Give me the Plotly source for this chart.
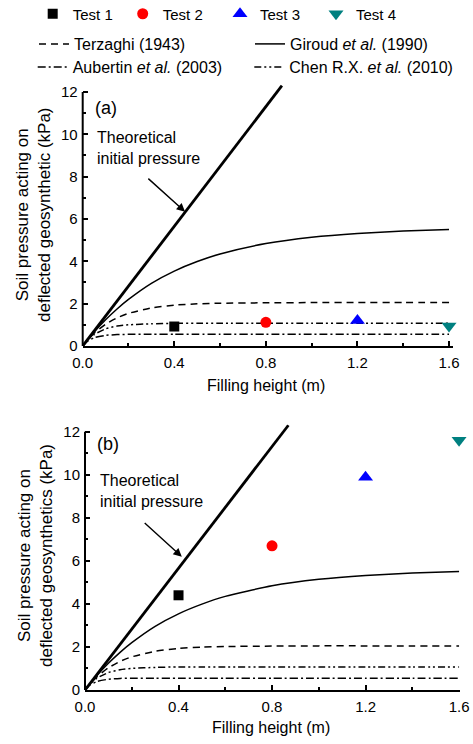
import plotly.graph_objects as go

# ---------------- data ----------------
test_names = ["Test 1", "Test 2", "Test 3", "Test 4"]
test_x = [0.4, 0.8, 1.2, 1.6]
test_a = [0.92, 1.12, 1.20, 0.95]
test_b = [4.40, 6.70, 9.88, 11.60]

curve_x = [0, 0.02, 0.05, 0.1, 0.15, 0.2, 0.3, 0.4, 0.5, 0.6, 0.8, 1.0, 1.2, 1.4, 1.6]
terzaghi = [0, 0.27, 0.60, 1.03, 1.33, 1.54, 1.80, 1.93, 1.99, 2.02, 2.04, 2.05, 2.05, 2.05, 2.05]
giroud = [0, 0.27, 0.66, 1.24, 1.75, 2.20, 2.96, 3.54, 3.99, 4.35, 4.84, 5.14, 5.32, 5.43, 5.50]
aubertin = [0, 0.22, 0.39, 0.50, 0.54, 0.55, 0.55, 0.55, 0.55, 0.55, 0.55, 0.55, 0.55, 0.55, 0.55]
chen = [0, 0.26, 0.54, 0.81, 0.94, 1.00, 1.05, 1.07, 1.07, 1.07, 1.07, 1.07, 1.07, 1.07, 1.07]

theory_x = [0, 0.87]
theory_y = [0, 12.3]

x_ticks = [0.0, 0.4, 0.8, 1.2, 1.6]
y_ticks = [0, 2, 4, 6, 8, 10, 12]

# ---------------- styles ----------------
W, H = 473, 744
FONT = "Arial, Liberation Sans, sans-serif"
marker_styles = [
    dict(symbol="square", size=10, color="black"),
    dict(symbol="circle", size=11, color="#ff0000"),
    dict(symbol="triangle-up", size=13, color="#0000ff"),
    dict(symbol="triangle-down", size=13, color="#008080"),
]
curves = [
    ("Terzaghi (1943)", terzaghi, "7px,5px"),
    ("Giroud <i>et al.</i> (1990)", giroud, "solid"),
    ("Aubertin <i>et al.</i> (2003)", aubertin, "8px,3px,2px,3px"),
    ("Chen R.X. <i>et al.</i> (2010)", chen, "7px,3px,2px,3px,2px,3px"),
]

def px_x(p):
    return p / W

def px_y(p):
    return 1 - p / H

fig = go.Figure()

leg_ids_tests = ["legend", "legend2", "legend3", "legend4"]
leg_ids_curves = ["legend5", "legend6", "legend7", "legend8"]
test_text_x = [72.7, 162.7, 260, 356]
curve_text_pos = [(74, 44), (290, 44), (72.7, 67), (289.3, 67)]

panels = [("x", "y", test_a, True), ("x2", "y2", test_b, False)]
for xa, ya, tvals, show in panels:
    for j, (name, vals, dash) in enumerate(curves):
        fig.add_trace(go.Scatter(
            x=curve_x, y=vals, mode="lines", name=name,
            line=dict(color="black", width=1.5, dash=dash, shape="spline", smoothing=0.6),
            xaxis=xa, yaxis=ya, showlegend=show, legend=leg_ids_curves[j],
        ))
    fig.add_trace(go.Scatter(
        x=theory_x, y=theory_y, mode="lines", line=dict(color="black", width=2.8),
        xaxis=xa, yaxis=ya, showlegend=False,
    ))
    for i, ms in enumerate(marker_styles):
        fig.add_trace(go.Scatter(
            x=[test_x[i]], y=[tvals[i]], mode="markers", name=test_names[i],
            marker=dict(symbol=ms["symbol"], size=ms["size"], color=ms["color"], line=dict(width=0)),
            xaxis=xa, yaxis=ya, showlegend=show, legend=leg_ids_tests[i], cliponaxis=False,
        ))

layout_legends = {}
for i, lid in enumerate(leg_ids_tests):
    layout_legends[lid] = dict(
        x=px_x(test_text_x[i] - 40), xanchor="left", y=px_y(14), yanchor="middle",
        bgcolor="rgba(0,0,0,0)", borderwidth=0, font=dict(family=FONT, size=15, color="black"),
        orientation="h",
    )
for j, lid in enumerate(leg_ids_curves):
    tx, ty = curve_text_pos[j]
    layout_legends[lid] = dict(
        x=px_x(tx - 40), xanchor="left", y=px_y(ty), yanchor="middle",
        bgcolor="rgba(0,0,0,0)", borderwidth=0, font=dict(family=FONT, size=16, color="black"),
        orientation="h",
    )

ax_a = dict(x0=82.7, x1=452.7, xr=1.616, y0=346, ppu=21.17)
ax_b = dict(x0=85.0, x1=460.0, xr=1.604, y0=690, ppu=21.525)
YR = 12.35

def xaxis_cfg(g):
    return dict(
        domain=[px_x(g["x0"]), px_x(g["x1"])], range=[0, g["xr"]],
        tickvals=x_ticks, ticktext=["%.1f" % v for v in x_ticks],
        ticks="inside", ticklen=5, tickwidth=1.5, tickcolor="black",
        minor=dict(tickvals=[0.2, 0.6, 1.0, 1.4], ticks="inside", ticklen=3, tickwidth=1.5, tickcolor="black"),
        showline=True, linecolor="black", linewidth=2, showgrid=False, zeroline=False,
        tickfont=dict(family=FONT, size=15, color="black"), fixedrange=True, automargin=False,
        ticklabelstandoff=2,
    )

def yaxis_cfg(g, anchor):
    top = g["y0"] - YR * g["ppu"]
    return dict(
        domain=[px_y(g["y0"]), px_y(top)], range=[0, YR], anchor=anchor,
        tickvals=y_ticks, ticks="inside", ticklen=5, tickwidth=1.5, tickcolor="black",
        minor=dict(tickvals=[1, 3, 5, 7, 9, 11], ticks="inside", ticklen=3, tickwidth=1.5, tickcolor="black"),
        showline=False, showgrid=False, zeroline=False,
        tickfont=dict(family=FONT, size=15, color="black"), fixedrange=True, automargin=False,
        ticklabelstandoff=4,
    )

fig.update_layout(
    width=W, height=H, margin=dict(l=0, r=0, t=0, b=0, pad=0, autoexpand=False),
    paper_bgcolor="white", plot_bgcolor="white",
    xaxis=dict(xaxis_cfg(ax_a), anchor="y"),
    yaxis=yaxis_cfg(ax_a, "x"),
    xaxis2=dict(xaxis_cfg(ax_b), anchor="y2"),
    yaxis2=yaxis_cfg(ax_b, "x2"),
    showlegend=True,
    **layout_legends,
)

fig.add_shape(type="line", xref="x domain", yref="y", x0=0, x1=0, y0=0, y1=12,
              line=dict(color="black", width=2))
fig.add_shape(type="line", xref="x2 domain", yref="y2", x0=0, x1=0, y0=0, y1=12,
              line=dict(color="black", width=2))

ann = []
ann.append(dict(text="(a)", x=px_x(93), y=px_y(108), xref="paper", yref="paper",
                xanchor="left", yanchor="middle", showarrow=False, font=dict(family=FONT, size=18, color="black")))
ann.append(dict(text="(b)", x=px_x(95), y=px_y(444), xref="paper", yref="paper",
                xanchor="left", yanchor="middle", showarrow=False, font=dict(family=FONT, size=18, color="black")))
ann.append(dict(text="Theoretical<br>initial pressure", x=px_x(95), y=px_y(147.5), xref="paper", yref="paper",
                xanchor="left", yanchor="middle", align="left", showarrow=False,
                font=dict(family=FONT, size=16, color="black")))
ann.append(dict(text="Theoretical<br>initial pressure", x=px_x(98), y=px_y(491), xref="paper", yref="paper",
                xanchor="left", yanchor="middle", align="left", showarrow=False,
                font=dict(family=FONT, size=16, color="black")))
ann.append(dict(text="", x=0.447, y=6.34, ax=0.28, ay=7.97, xref="x", yref="y", axref="x", ayref="y",
                showarrow=True, arrowhead=2, arrowsize=1.2, arrowwidth=1.4, arrowcolor="black", standoff=0))
ann.append(dict(text="", x=0.414, y=6.19, ax=0.249, ay=7.82, xref="x2", yref="y2", axref="x2", ayref="y2",
                showarrow=True, arrowhead=2, arrowsize=1.2, arrowwidth=1.4, arrowcolor="black", standoff=0))
ann.append(dict(text="Soil pressure acting on<br>deflected geosynthetic (kPa)", x=px_x(33), y=px_y(215),
                xref="paper", yref="paper", xanchor="center", yanchor="middle", textangle=-90,
                showarrow=False, font=dict(family=FONT, size=17, color="black")))
ann.append(dict(text="Soil pressure acting on<br>deflected geosynthetics (kPa)", x=px_x(35), y=px_y(556),
                xref="paper", yref="paper", xanchor="center", yanchor="middle", textangle=-90,
                showarrow=False, font=dict(family=FONT, size=17, color="black")))
ann.append(dict(text="Filling height (m)", x=px_x(266), y=px_y(385), xref="paper", yref="paper",
                xanchor="center", yanchor="middle", showarrow=False, font=dict(family=FONT, size=16, color="black")))
ann.append(dict(text="Filling height (m)", x=px_x(271), y=px_y(727), xref="paper", yref="paper",
                xanchor="center", yanchor="middle", showarrow=False, font=dict(family=FONT, size=16, color="black")))
fig.update_layout(annotations=ann)

fig.write_html("out.html", config={"displayModeBar": False},
               post_script="document.body.style.margin='0px';document.body.style.overflow='hidden';")
